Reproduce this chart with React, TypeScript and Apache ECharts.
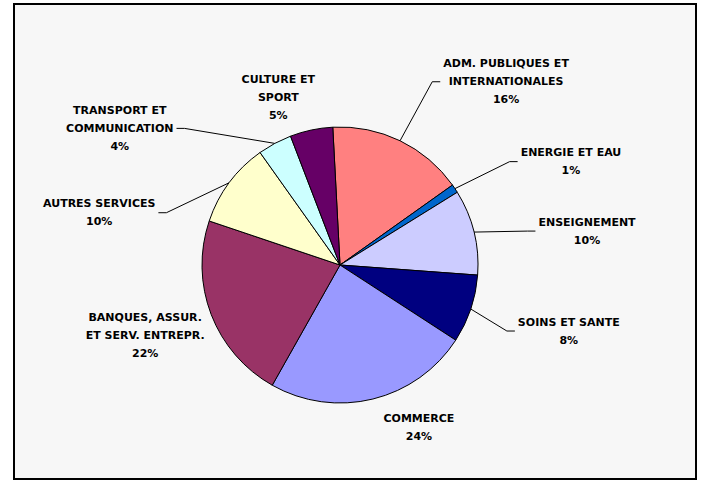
import React, { useEffect, useRef } from "react";
import * as echarts from "echarts";

const categories = [
  "ADM. PUBLIQUES ET\nINTERNATIONALES",
  "ENERGIE ET EAU",
  "ENSEIGNEMENT",
  "SOINS ET SANTE",
  "COMMERCE",
  "BANQUES, ASSUR.\nET SERV. ENTREPR.",
  "AUTRES SERVICES",
  "TRANSPORT ET\nCOMMUNICATION",
  "CULTURE ET\nSPORT",
];
const values = [16, 1, 10, 8, 24, 22, 10, 4, 5];
const colors = ["#FF8080", "#0066CC", "#CCCCFF", "#000080", "#9999FF", "#993366", "#FFFFCC", "#CCFFFF", "#660066"];
// label centre offsets from the slice's outer mid point
const labelOx = [106, 116, 113, 98, 46, -66, -130, -155, -33];
const labelOy = [-59, -27, -1, 22, 28, 21, 30, -15, -33];
const showLeader = [true, true, true, true, false, false, true, true, false];

export default function App() {
  const ref = useRef<HTMLDivElement>(null);
  useEffect(() => {
    document.body.style.margin = "0";
    const chart = echarts.init(ref.current!, null, { renderer: "svg" });
    chart.setOption({
      animation: false,
      backgroundColor: "#ffffff",
      graphic: [
        {
          type: "rect",
          shape: { x: 14, y: 4, width: 682, height: 475 },
          style: { fill: "#F7F7F7", stroke: "#000", lineWidth: 2 },
          z: -10,
        },
      ],
      series: [
        {
          type: "pie",
          center: [340, 265],
          radius: 138,
          startAngle: 93,
          clockwise: true,
          avoidLabelOverlap: false,
          itemStyle: { borderColor: "#000", borderWidth: 1 },
          label: {
            show: true,
            position: "outside",
            formatter: "{b}\n{c}%",
            color: "#000",
            fontSize: 11,
            fontWeight: "bold",
            fontFamily: "DejaVu Sans, sans-serif",
            lineHeight: 18,
            align: "center",
          },
          labelLine: { show: true, length: 0, length2: 0, lineStyle: { color: "#000", width: 1 } },
          labelLayout: (p: any) => {
            const i = p.dataIndex;
            const pts = p.labelLinePoints;
            const edge = pts ? pts[0] : [0, 0];
            const cx = edge[0] + labelOx[i];
            const cy = edge[1] + labelOy[i];
            const w = p.labelRect.width;
            const right = labelOx[i] > 0;
            const endX = right ? cx - w / 2 - 3 : cx + w / 2 + 3;
            const bendX = right ? endX - 8 : endX + 8;
            return {
              x: cx,
              y: cy,
              align: "center",
              verticalAlign: "middle",
              labelLinePoints: [edge, [bendX, cy], [endX, cy]],
            };
          },
          data: categories.map((name, i) => ({
            name,
            value: values[i],
            itemStyle: { color: colors[i] },
            labelLine: { show: showLeader[i] },
          })),
        },
      ],
    });
    return () => chart.dispose();
  }, []);
  return <div ref={ref} style={{ width: 701, height: 481 }} />;
}
